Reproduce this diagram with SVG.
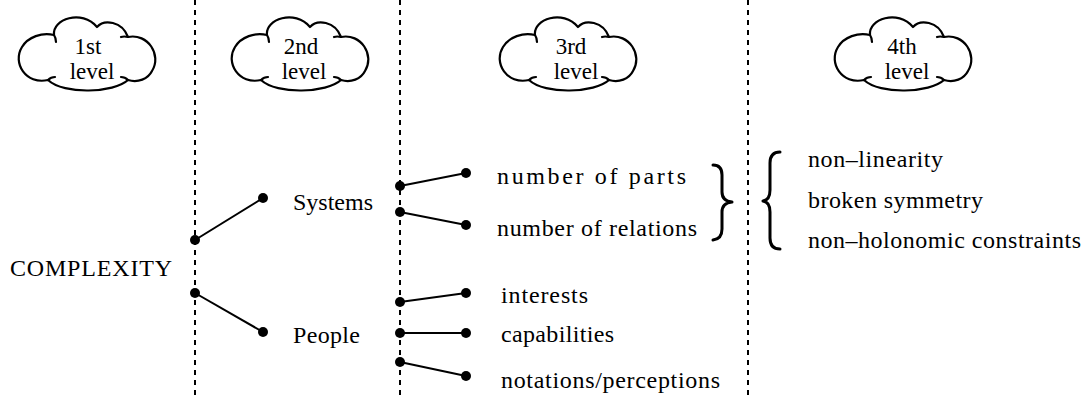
<svg xmlns="http://www.w3.org/2000/svg" width="1084" height="396" viewBox="0 0 1084 396">
  <defs>
    <style>
      .cloud-text { text-anchor: middle; }
      .divider { stroke: #000; stroke-width: 2; stroke-dasharray: 5 5; fill: none; }
      .link { stroke: #000; stroke-width: 2; fill: none; }
      .dot { fill: #000; }
      .cloud { fill: #fff; stroke: #000; stroke-width: 2.2; stroke-linejoin: round; }
      .hook { fill: none; stroke: #000; stroke-width: 2.2; stroke-linecap: round; }
      .brace { fill: none; stroke: #000; stroke-width: 3; stroke-linecap: round; stroke-linejoin: round; }
    </style>
    <!-- cloud outline, 139 x 75 -->
    <g id="cloud-shape">
      <path class="cloud" d="M32,65 C10,70 -4,48 6,32 C12,22 26,17 38,20 C36,4 66,-6 81,12 C88,4 106,6 112,22 C132,18 146,40 136,56 C132,64 122,68 112,65 C98,78 48,80 32,65 Z"/>
      <path class="hook" d="M38,20 Q40,23 40,27"/>
      <path class="hook" d="M112,22 Q108,21 105,22"/>
      <path class="hook" d="M32,65 Q35,62 39,62"/>
      <path class="hook" d="M112,65 Q109,62 105,62"/>
    </g>
  </defs>

  <rect width="1084" height="396" fill="#fff"/>

  <!-- column dividers -->
  <g id="dividers">
    <line class="divider" x1="195" y1="0" x2="195" y2="396"/>
    <line class="divider" x1="400" y1="0" x2="400" y2="396"/>
    <line class="divider" x1="748" y1="0" x2="748" y2="396"/>
  </g>

  <g font-family="Liberation Serif, Times New Roman, serif" font-size="24" fill="#000">
    <!-- level headers -->
    <g id="level1" font-size="23">
      <use href="#cloud-shape" transform="translate(16,15)"/>
      <text class="cloud-text" x="88" y="54">1st</text>
      <text class="cloud-text" x="92" y="79">level</text>
    </g>
    <g id="level2" font-size="23">
      <use href="#cloud-shape" transform="translate(229,15)"/>
      <text class="cloud-text" x="301" y="54">2nd</text>
      <text class="cloud-text" x="304" y="79">level</text>
    </g>
    <g id="level3" font-size="23">
      <use href="#cloud-shape" transform="translate(497,15)"/>
      <text class="cloud-text" x="571" y="54">3rd</text>
      <text class="cloud-text" x="576" y="79">level</text>
    </g>
    <g id="level4" font-size="23">
      <use href="#cloud-shape" transform="translate(832,15)"/>
      <text class="cloud-text" x="902" y="54">4th</text>
      <text class="cloud-text" x="907" y="79">level</text>
    </g>

    <!-- connectors -->
    <g id="connectors">
      <line class="link" x1="195" y1="240" x2="263" y2="198"/>
      <line class="link" x1="195" y1="293" x2="263" y2="332"/>
      <line class="link" x1="400" y1="186" x2="466" y2="173"/>
      <line class="link" x1="400" y1="212" x2="466" y2="225"/>
      <line class="link" x1="400" y1="302" x2="466" y2="293"/>
      <line class="link" x1="400" y1="333" x2="466" y2="333"/>
      <line class="link" x1="400" y1="362" x2="466" y2="376"/>
      <circle class="dot" cx="195" cy="240" r="5"/>
      <circle class="dot" cx="263" cy="198" r="5"/>
      <circle class="dot" cx="195" cy="293" r="5"/>
      <circle class="dot" cx="263" cy="332" r="5"/>
      <circle class="dot" cx="400" cy="186" r="5"/>
      <circle class="dot" cx="466" cy="173" r="5"/>
      <circle class="dot" cx="400" cy="212" r="5"/>
      <circle class="dot" cx="466" cy="225" r="5"/>
      <circle class="dot" cx="400" cy="302" r="5"/>
      <circle class="dot" cx="466" cy="293" r="5"/>
      <circle class="dot" cx="400" cy="333" r="5"/>
      <circle class="dot" cx="466" cy="333" r="5"/>
      <circle class="dot" cx="400" cy="362" r="5"/>
      <circle class="dot" cx="466" cy="376" r="5"/>
    </g>

    <!-- nodes -->
    <g id="complexity"><text x="10" y="276" textLength="162" lengthAdjust="spacing">COMPLEXITY</text></g>
    <g id="systems"><text x="293" y="210" textLength="80" lengthAdjust="spacing">Systems</text></g>
    <g id="people"><text x="293" y="343" textLength="67" lengthAdjust="spacing">People</text></g>
    <g id="parts"><text x="497" y="184" textLength="189" lengthAdjust="spacing">number of parts</text></g>
    <g id="relations"><text x="497" y="236" textLength="200" lengthAdjust="spacing">number of relations</text></g>
    <g id="interests"><text x="501" y="303" textLength="87" lengthAdjust="spacing">interests</text></g>
    <g id="capabilities"><text x="501" y="342" textLength="113" lengthAdjust="spacing">capabilities</text></g>
    <g id="notations"><text x="501" y="388" textLength="219" lengthAdjust="spacing">notations/perceptions</text></g>

    <!-- grouping braces -->
    <g id="brace-close">
      <path class="brace" d="M713,165 Q722,165 722,175 L722,192 Q722,201 732,202 Q722,203 722,212 L722,229 Q722,239 713,240"/>
    </g>
    <g id="brace-open">
      <path class="brace" d="M780,152 Q770,152 770,163 L770,190 Q770,200 763,201 Q770,202 770,212 L770,238 Q770,249 780,249"/>
    </g>

    <g id="nonlinearity"><text x="808" y="167" textLength="135" lengthAdjust="spacing">non–linearity</text></g>
    <g id="symmetry"><text x="808" y="208" textLength="175" lengthAdjust="spacing">broken symmetry</text></g>
    <g id="nonholonomic"><text x="808" y="248" textLength="273" lengthAdjust="spacing">non–holonomic constraints</text></g>
  </g>
</svg>
